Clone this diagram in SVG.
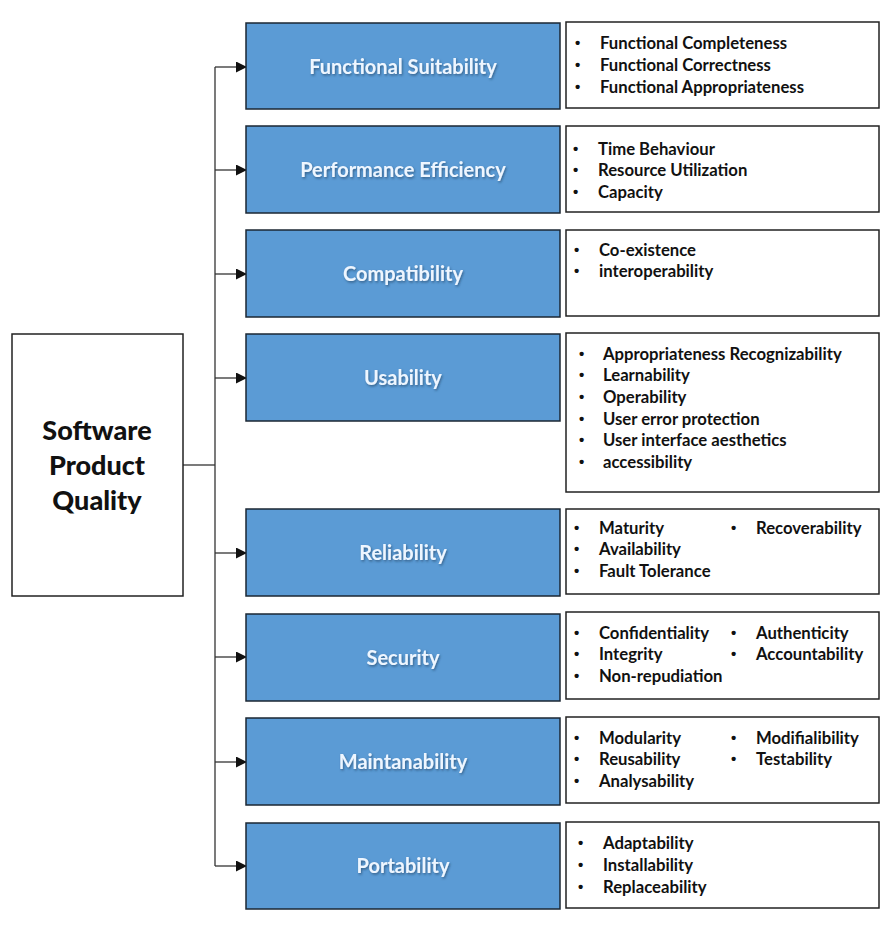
<svg xmlns="http://www.w3.org/2000/svg" width="888" height="925" viewBox="0 0 888 925">
<style>
.bg{fill:#ffffff}
.root{fill:#ffffff;stroke:#222;stroke-width:1.5}
.blue{fill:#5b9bd5;stroke:#1b2733;stroke-width:1.5}
.list{fill:#ffffff;stroke:#222;stroke-width:1.5}
.rt{font-family:Lato,"Open Sans",sans-serif;font-weight:900;font-size:27px;fill:#111;text-anchor:middle}
.bt{font-family:Lato,"Open Sans",sans-serif;font-weight:bold;font-size:20px;fill:#eef6ff;text-anchor:middle}
.li{font-family:Lato,"Open Sans",sans-serif;font-weight:bold;font-size:16.7px;fill:#111}
.bu{font-family:"Liberation Sans",sans-serif;font-weight:bold;font-size:15px;fill:#111}
.conn{fill:none;stroke:#333;stroke-width:1.3}
</style>
<defs>
<marker id="ah" markerWidth="11" markerHeight="11" refX="10" refY="5.5" orient="auto" markerUnits="userSpaceOnUse">
<path d="M0,0 L11,5.5 L0,11 z" fill="#111"/>
</marker>
<filter id="sh" x="-5%" y="-20%" width="110%" height="150%">
<feDropShadow dx="1" dy="1.5" stdDeviation="1" flood-color="#1d3c5c" flood-opacity="0.6"/>
</filter>
</defs>
<rect class="bg" x="0" y="0" width="888" height="925"/>

<g id="connectors">
<line class="conn" x1="183" y1="465" x2="215" y2="465"/>
<line class="conn" x1="215" y1="67" x2="215" y2="866"/>
<line class="conn" x1="215" y1="67" x2="246" y2="67" marker-end="url(#ah)"/>
<line class="conn" x1="215" y1="170" x2="246" y2="170" marker-end="url(#ah)"/>
<line class="conn" x1="215" y1="274" x2="246" y2="274" marker-end="url(#ah)"/>
<line class="conn" x1="215" y1="378" x2="246" y2="378" marker-end="url(#ah)"/>
<line class="conn" x1="215" y1="553" x2="246" y2="553" marker-end="url(#ah)"/>
<line class="conn" x1="215" y1="657" x2="246" y2="657" marker-end="url(#ah)"/>
<line class="conn" x1="215" y1="762" x2="246" y2="762" marker-end="url(#ah)"/>
<line class="conn" x1="215" y1="866" x2="246" y2="866" marker-end="url(#ah)"/>
</g>

<g id="root">
<rect class="root" x="12" y="334" width="171" height="262"/>
<text class="rt" x="97" y="440">Software</text>
<text class="rt" x="97" y="475">Product</text>
<text class="rt" x="97" y="510">Quality</text>
</g>

<g id="functional-suitability">
<rect class="blue" x="246" y="23" width="314" height="86"/>
<text class="bt" x="403" y="74" filter="url(#sh)">Functional Suitability</text>
</g>
<g id="functional-suitability-list">
<rect class="list" x="566" y="22" width="313" height="86"/>
<text class="bu" x="575" y="48">•</text><text class="li" x="600" y="49">Functional Completeness</text>
<text class="bu" x="575" y="70">•</text><text class="li" x="600" y="71">Functional Correctness</text>
<text class="bu" x="575" y="92">•</text><text class="li" x="600" y="93">Functional Appropriateness</text>
</g>

<g id="performance-efficiency">
<rect class="blue" x="246" y="126" width="314" height="87"/>
<text class="bt" x="403" y="177" filter="url(#sh)">Performance Efficiency</text>
</g>
<g id="performance-efficiency-list">
<rect class="list" x="566" y="126" width="313" height="86"/>
<text class="bu" x="573" y="154">•</text><text class="li" x="598" y="155">Time Behaviour</text>
<text class="bu" x="573" y="175">•</text><text class="li" x="598" y="176">Resource Utilization</text>
<text class="bu" x="573" y="197">•</text><text class="li" x="598" y="198">Capacity</text>
</g>

<g id="compatibility">
<rect class="blue" x="246" y="230" width="314" height="87"/>
<text class="bt" x="403" y="281" filter="url(#sh)">Compatibility</text>
</g>
<g id="compatibility-list">
<rect class="list" x="566" y="230" width="313" height="86"/>
<text class="bu" x="574" y="255">•</text><text class="li" x="599" y="256">Co-existence</text>
<text class="bu" x="574" y="276">•</text><text class="li" x="599" y="277">interoperability</text>
</g>

<g id="usability">
<rect class="blue" x="246" y="334" width="314" height="87"/>
<text class="bt" x="403" y="385" filter="url(#sh)">Usability</text>
</g>
<g id="usability-list">
<rect class="list" x="566" y="333" width="313" height="159"/>
<text class="bu" x="579" y="359">•</text><text class="li" x="603" y="360">Appropriateness Recognizability</text>
<text class="bu" x="579" y="380">•</text><text class="li" x="603" y="381">Learnability</text>
<text class="bu" x="579" y="402">•</text><text class="li" x="603" y="403">Operability</text>
<text class="bu" x="579" y="424">•</text><text class="li" x="603" y="425">User error protection</text>
<text class="bu" x="579" y="445">•</text><text class="li" x="603" y="446">User interface aesthetics</text>
<text class="bu" x="579" y="467">•</text><text class="li" x="603" y="468">accessibility</text>
</g>

<g id="reliability">
<rect class="blue" x="246" y="509" width="314" height="87"/>
<text class="bt" x="403" y="560" filter="url(#sh)">Reliability</text>
</g>
<g id="reliability-list">
<rect class="list" x="566" y="509" width="313" height="85"/>
<text class="bu" x="574" y="533">•</text><text class="li" x="599" y="534">Maturity</text>
<text class="bu" x="731" y="533">•</text><text class="li" x="756" y="534">Recoverability</text>
<text class="bu" x="574" y="554">•</text><text class="li" x="599" y="555">Availability</text>
<text class="bu" x="574" y="576">•</text><text class="li" x="599" y="577">Fault Tolerance</text>
</g>

<g id="security">
<rect class="blue" x="246" y="614" width="314" height="87"/>
<text class="bt" x="403" y="665" filter="url(#sh)">Security</text>
</g>
<g id="security-list">
<rect class="list" x="566" y="612" width="313" height="87"/>
<text class="bu" x="574" y="638">•</text><text class="li" x="599" y="639">Confidentiality</text>
<text class="bu" x="731" y="638">•</text><text class="li" x="756" y="639">Authenticity</text>
<text class="bu" x="574" y="659">•</text><text class="li" x="599" y="660">Integrity</text>
<text class="bu" x="731" y="659">•</text><text class="li" x="756" y="660">Accountability</text>
<text class="bu" x="574" y="681">•</text><text class="li" x="599" y="682">Non-repudiation</text>
</g>

<g id="maintanability">
<rect class="blue" x="246" y="718" width="314" height="87"/>
<text class="bt" x="403" y="769" filter="url(#sh)">Maintanability</text>
</g>
<g id="maintanability-list">
<rect class="list" x="566" y="717" width="313" height="86"/>
<text class="bu" x="574" y="743">•</text><text class="li" x="599" y="744">Modularity</text>
<text class="bu" x="731" y="743">•</text><text class="li" x="756" y="744">Modifialibility</text>
<text class="bu" x="574" y="764">•</text><text class="li" x="599" y="765">Reusability</text>
<text class="bu" x="731" y="764">•</text><text class="li" x="756" y="765">Testability</text>
<text class="bu" x="574" y="786">•</text><text class="li" x="599" y="787">Analysability</text>
</g>

<g id="portability">
<rect class="blue" x="246" y="823" width="314" height="86"/>
<text class="bt" x="403" y="873" filter="url(#sh)">Portability</text>
</g>
<g id="portability-list">
<rect class="list" x="566" y="822" width="313" height="86"/>
<text class="bu" x="578" y="848">•</text><text class="li" x="603" y="849">Adaptability</text>
<text class="bu" x="578" y="870">•</text><text class="li" x="603" y="871">Installability</text>
<text class="bu" x="578" y="892">•</text><text class="li" x="603" y="893">Replaceability</text>
</g>
</svg>
